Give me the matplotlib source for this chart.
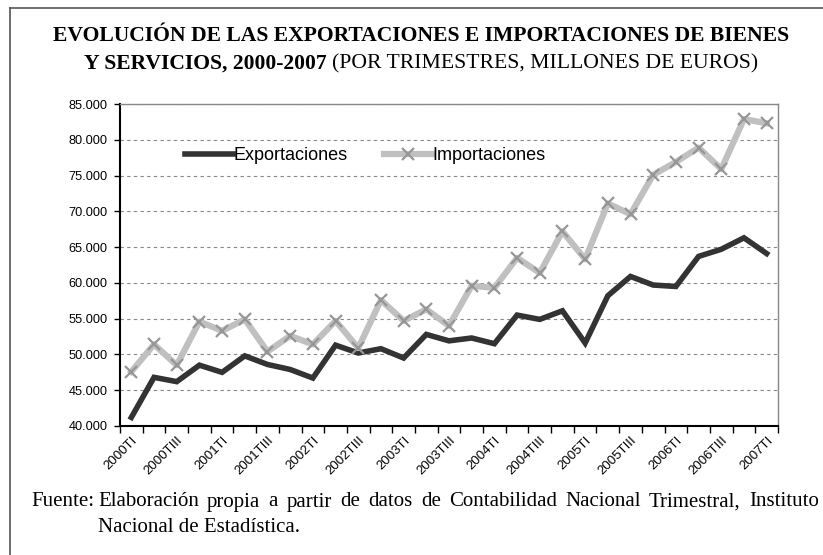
import matplotlib
matplotlib.use("Agg")
import matplotlib.pyplot as plt
from matplotlib.lines import Line2D
from matplotlib.ticker import FuncFormatter, MultipleLocator

# trimestres 2000TI .. 2007TI
years = list(range(2000, 2008))
quarters = ["TI", "TII", "TIII", "TIV"]
periods = [f"{y}{q}" for y in years for q in quarters][:29]

exportaciones = [41200, 46800, 46200, 48500, 47500, 49800, 48600, 47900,
                 46700, 51300, 50200, 50800, 49500, 52800, 51900, 52300,
                 51500, 55500, 54900, 56100, 51600, 58200, 60900, 59700,
                 59500, 63700, 64700, 66300, 64100]
importaciones = [47600, 51400, 48500, 54600, 53300, 54900, 50400, 52600,
                 51400, 54700, 50900, 57600, 54700, 56300, 54000, 59600,
                 59300, 63500, 61400, 67200, 63300, 71100, 69600, 75100,
                 76900, 78900, 75900, 82900, 82300]

titulo1 = "EVOLUCIÓN DE LAS EXPORTACIONES E IMPORTACIONES DE BIENES"
titulo2a = "Y SERVICIOS, 2000-2007 "
titulo2b = "(POR TRIMESTRES, MILLONES DE EUROS)"
fuente1 = "Elaboración propia a partir de datos de Contabilidad Nacional Trimestral, Instituto"
fuente2 = "Nacional de Estadística."

W, H = 823, 555
fig = plt.figure(figsize=(W / 100, H / 100), dpi=100)
fig.patch.set_facecolor("white")

# recuadro exterior
fig.add_artist(Line2D([10 / W, 10 / W], [0, 1 - 8 / H], color="#555555", lw=1.2))
fig.add_artist(Line2D([10 / W, 1], [1 - 8 / H, 1 - 8 / H], color="#555555", lw=1.2))

ax = fig.add_axes([120 / W, 1 - 426 / H, 658 / W, 322 / H])
x = list(range(len(periods)))

ax.plot(x, exportaciones, color="#333333", lw=4, solid_joinstyle="miter",
        label="Exportaciones", zorder=3)
ax.plot(x, importaciones, color="#c0c0c0", lw=4.5, marker="x", markersize=9,
        markeredgecolor="#969696", markeredgewidth=1.6,
        label="Importaciones", zorder=4)

ax.set_xlim(-0.5, len(periods) - 0.5)
ax.set_ylim(40000, 85000)
ax.yaxis.set_major_locator(MultipleLocator(5000))
ax.yaxis.set_major_formatter(FuncFormatter(lambda v, p: f"{int(v):,}".replace(",", ".")))
ax.grid(axis="y", linestyle=(0, (3, 3)), color="#888888", lw=0.8)

ax.set_xticks(x[::2])
ax.set_xticklabels(periods[::2], rotation=45, ha="right", rotation_mode="anchor",
                   fontsize=9.5, family="Liberation Sans")
ax.set_xticks([i - 0.5 for i in range(len(periods) + 1)], minor=True)
ax.tick_params(axis="x", which="major", length=0, pad=6)
ax.tick_params(axis="x", which="minor", length=5, width=1, direction="out")
ax.tick_params(axis="y", length=4, width=1, labelsize=9.2, pad=5)
for lbl in ax.get_yticklabels():
    lbl.set_family("Liberation Sans")

for s in ["left", "bottom"]:
    ax.spines[s].set_color("black")
    ax.spines[s].set_linewidth(1.5)
for s in ["top", "right"]:
    ax.spines[s].set_color("#888888")
    ax.spines[s].set_linewidth(1)

ax.legend(loc="center left", bbox_to_anchor=(0.099, 0.839), ncol=2,
          frameon=False, borderpad=0, borderaxespad=0, handletextpad=0,
          handlelength=2.66, columnspacing=2.05,
          prop={"family": "Liberation Sans", "size": 13})

# titulo
fig.text(421 / W, 1 - 36 / H, titulo1, ha="center", va="center",
         family="Liberation Serif", weight="bold", fontsize=15.6)
fig.canvas.draw()
r = fig.canvas.get_renderer()
ta = fig.text(0, 1 - 64 / H, titulo2a, ha="left", va="center",
              family="Liberation Serif", weight="bold", fontsize=15.6)
tb = fig.text(0, 1 - 64 / H, titulo2b, ha="left", va="center",
              family="Liberation Serif", fontsize=15.6)
wa = ta.get_window_extent(r).width
wb = tb.get_window_extent(r).width
x0 = 421 - (wa + wb) / 2
ta.set_x(x0 / W)
tb.set_x((x0 + wa) / W)

# fuente (texto justificado)
fs = 15
fig.text(31 / W, 1 - 502 / H, "Fuente:", ha="left", va="center",
         family="Liberation Serif", fontsize=fs)
words = fuente1.split()
objs = [fig.text(0, 1 - 502 / H, w, ha="left", va="center",
                 family="Liberation Serif", fontsize=fs) for w in words]
widths = [o.get_window_extent(r).width for o in objs]
gap = (819 - 98 - sum(widths)) / (len(words) - 1)
pos = 98
for o, w in zip(objs, widths):
    o.set_x(pos / W)
    pos += w + gap
fig.text(98 / W, 1 - 528 / H, fuente2, ha="left", va="center",
         family="Liberation Serif", fontsize=fs)

fig.savefig("out.png", dpi=100, facecolor="white")
